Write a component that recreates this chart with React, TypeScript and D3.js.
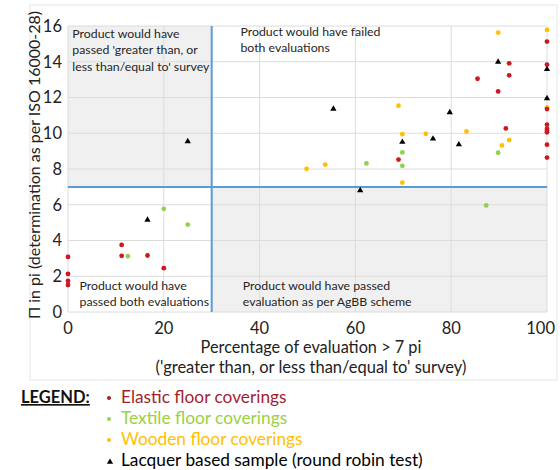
import React from "react";
import * as d3 from "d3";

const elasticX = [0, 0, 0, 0, 11.2, 11.2, 16.6, 20, 69, 85.5, 89.8, 92.1, 92.1, 91.4, 100, 100, 100, 100, 100, 100, 100, 100, 100];
const elasticY = [3.08, 2.13, 1.74, 1.51, 3.75, 3.14, 3.16, 2.45, 8.53, 13.05, 12.34, 13.91, 13.24, 10.27, 15.13, 13.84, 11.35, 10.48, 10.25, 10.14, 10.05, 9.36, 8.64];

const textileX = [12.5, 20, 25, 62.3, 69.8, 69.8, 89.8, 87.3];
const textileY = [3.12, 5.77, 4.89, 8.31, 8.93, 8.18, 8.91, 5.96];

const woodenX = [49.8, 53.7, 69, 69.8, 69.8, 74.7, 83.2, 90.6, 92.1, 89.8, 100, 100];
const woodenY = [8.01, 8.25, 11.54, 9.95, 7.24, 9.97, 10.1, 9.32, 9.62, 15.63, 15.78, 11.45];

const lacquerX = [16.6, 25, 55.4, 61, 69.8, 76.2, 79.7, 81.6, 89.8, 100, 100];
const lacquerY = [5.15, 9.54, 11.36, 6.8, 9.51, 9.69, 11.17, 9.37, 13.99, 13.58, 11.95];

const xTicks = [0, 20, 40, 60, 80, 100];
const yTicks = [0, 2, 4, 6, 8, 10, 12, 14, 16];
const xThreshold = 30;
const yThreshold = 7;

const quadrantTexts = [
  { x: 0.9, y: 15.35, lines: ["Product would have", "passed 'greater than, or", "less than/equal to' survey"] },
  { x: 36, y: 15.45, lines: ["Product would have failed", "both evaluations"] },
  { x: 2.4, y: 1.25, lines: ["Product would have", "passed both evaluations"] },
  { x: 36.5, y: 1.25, lines: ["Product would have passed", "evaluation as per AgBB scheme"] },
];

const legendItems = [
  { label: "Elastic floor coverings", color: "#a31f2e", marker: "dot" },
  { label: "Textile floor coverings", color: "#9bcf45", marker: "dot" },
  { label: "Wooden floor coverings", color: "#ffc000", marker: "dot" },
  { label: "Lacquer based sample (round robin test)", color: "#000000", marker: "tri" },
];

const FONT = "Lato, 'Liberation Sans', sans-serif";

export default function App() {
  const x = d3.scaleLinear().domain([0, 100]).range([68, 547]);
  const y = d3.scaleLinear().domain([0, 16]).range([312, 26]);
  const tri = d3.symbol().type(d3.symbolTriangle).size(17)();

  const dots = (xs: number[], ys: number[], color: string) =>
    xs.map((v, i) => <circle key={color + i} cx={x(v)} cy={y(ys[i])} r={2.4} fill={color} />);

  return (
    <svg width={560} height={470} style={{ position: "absolute", left: 0, top: 0, background: "#fff" }} fontFamily={FONT}>
      <rect x={30} y={5} width={527} height={375} fill="#fff" stroke="#e6e6e6" strokeWidth={1} />
      {/* shaded quadrants */}
      <rect x={x(0)} y={y(16)} width={x(xThreshold) - x(0)} height={y(yThreshold) - y(16)} fill="#f0f0f0" />
      <rect x={x(xThreshold)} y={y(yThreshold)} width={x(100) - x(xThreshold)} height={y(0) - y(yThreshold)} fill="#f0f0f0" />
      {/* grid */}
      {yTicks.map((t) => (
        <line key={"gy" + t} x1={x(0)} x2={x(100)} y1={y(t)} y2={y(t)} stroke="#dcdcdc" strokeWidth={1} />
      ))}
      {xTicks.map((t) => (
        <line key={"gx" + t} x1={x(t)} x2={x(t)} y1={y(0)} y2={y(16)} stroke="#dcdcdc" strokeWidth={1} />
      ))}
      {/* threshold lines */}
      <line x1={x(xThreshold)} x2={x(xThreshold)} y1={y(0)} y2={y(16)} stroke="#5b9bd5" strokeWidth={2} />
      <line x1={x(0)} x2={x(100)} y1={y(yThreshold)} y2={y(yThreshold)} stroke="#5b9bd5" strokeWidth={2} />
      {/* quadrant texts */}
      {quadrantTexts.map((q, i) => (
        <text key={"q" + i} x={x(q.x)} y={y(q.y)} fontSize={12.3} fill="#262626">
          {q.lines.map((l, j) => (
            <tspan key={j} x={x(q.x)} dy={j === 0 ? 0 : 16.5}>{l}</tspan>
          ))}
        </text>
      ))}
      {/* data */}
      {dots(textileX, textileY, "#92d050")}
      {dots(woodenX, woodenY, "#ffc000")}
      {dots(elasticX, elasticY, "#d0161e")}
      {lacquerX.map((v, i) => (
        <path key={"t" + i} d={tri} transform={`translate(${x(v)},${y(lacquerY[i])})`} fill="#000" />
      ))}
      {/* y ticks */}
      {yTicks.map((t) => (
        <text key={"yt" + t} x={62} y={y(t)} dy="0.35em" textAnchor="end" fontSize={16.5} fill="#222">{t}</text>
      ))}
      {xTicks.map((t) => (
        <text key={"xt" + t} x={t === 100 ? 555 : x(t)} y={334} textAnchor={t === 100 ? "end" : "middle"} fontSize={16.5} fill="#222">{t}</text>
      ))}
      {/* axis titles */}
      <text transform={`translate(40,${165}) rotate(-90)`} textAnchor="middle" fontSize={16} fill="#222">Π in pi (determination as per ISO 16000-28)</text>
      <text x={311} y={353} textAnchor="middle" fontSize={16.3} fill="#222">Percentage of evaluation &gt; 7 pi</text>
      <text x={311} y={373} textAnchor="middle" fontSize={16.5} fill="#222">('greater than, or less than/equal to' survey)</text>
      {/* legend */}
      <text x={21} y={403} fontSize={16.5} fontWeight="bold" textDecoration="underline" fill="#111">LEGEND:</text>
      {legendItems.map((it, i) => {
        const by = 403 + i * 21;
        return (
          <g key={"lg" + i}>
            {it.marker === "dot" ? (
              <circle cx={109} cy={by - 5} r={2} fill={it.color} />
            ) : (
              <path d={tri} transform={`translate(110,${by - 4})`} fill="#000" />
            )}
            <text x={121} y={by} fontSize={17.3} fill={it.color}>{it.label}</text>
          </g>
        );
      })}
    </svg>
  );
}
